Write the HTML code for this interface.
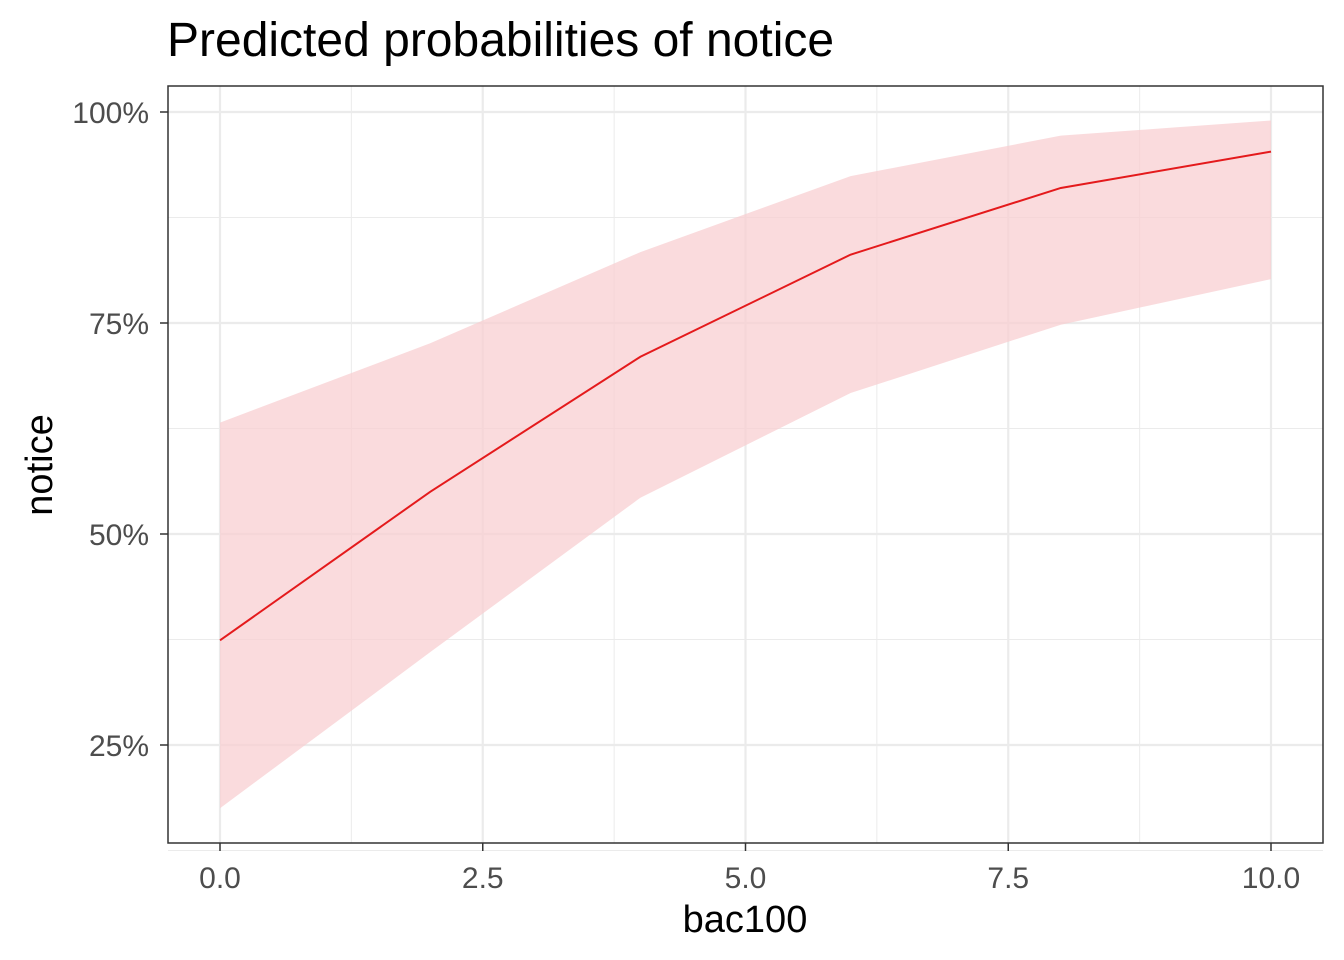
<!DOCTYPE html>
<html><head><meta charset="utf-8"><style>
body{margin:0;background:#fff;}
svg{display:block;font-family:"Liberation Sans",Arial,sans-serif;}
</style></head><body>
<svg id="chart" width="1344" height="960">
<text x="167" y="56" font-size="48" fill="#000">Predicted probabilities of notice</text>
<g id="grid"></g>
<g id="marks"></g>
<rect x="168" y="86" width="1155" height="757" fill="none" stroke="#333" stroke-width="1.5"/>
<g id="axes"></g>
<text x="745" y="932" font-size="38" text-anchor="middle" fill="#000">bac100</text>
<text transform="translate(52,465) rotate(-90)" font-size="38" text-anchor="middle" fill="#000">notice</text>
</svg>
<script>
const xs=[0,2,4,6,8,10];
const fit=[37.4,55.0,71.0,83.1,91.0,95.3];
const upper=[63.2,72.6,83.4,92.4,97.2,99.0];
const lower=[17.5,36.0,54.3,66.7,74.8,80.2];
const xTicks=[0,2.5,5,7.5,10];
const xTickLabels=["0.0","2.5","5.0","7.5","10.0"];
const yTicks=[25,50,75,100];
const yTickLabels=["25%","50%","75%","100%"];
const X=v=>220+v*105.1;
const Y=v=>534-(v-50)*8.44;
const NS="http://www.w3.org/2000/svg";
const grid=document.getElementById('grid'),marks=document.getElementById('marks'),axes=document.getElementById('axes');
function mk(t,a,p){const e=document.createElementNS(NS,t);for(const k in a)e.setAttribute(k,a[k]);p.appendChild(e);return e;}
for(let i=0;i<xTicks.length-1;i++){const m=(xTicks[i]+xTicks[i+1])/2;
 const l=mk('line',{x1:X(m),x2:X(m),y1:86,y2:843,stroke:'#ebebeb','stroke-width':1},grid);
 }
for(let i=0;i<yTicks.length;i++){const m=yTicks[i]-12.5;
 const l=mk('line',{x1:168,x2:1323,y1:Y(m),y2:Y(m),stroke:'#ebebeb','stroke-width':1},grid);
 }
xTicks.forEach((v,i)=>{
 const l=mk('line',{x1:X(v),x2:X(v),y1:86,y2:843,stroke:'#ebebeb','stroke-width':2.2},grid);
 
 const t=mk('line',{x1:X(v),x2:X(v),y1:843,y2:851,stroke:'#333','stroke-width':1.5},axes);
 
 const tx=mk('text',{x:X(v),y:888,'font-size':30,'text-anchor':'middle',fill:'#4d4d4d'},axes);
 tx.textContent=xTickLabels[i];
 
});
yTicks.forEach((v,i)=>{
 const l=mk('line',{x1:168,x2:1323,y1:Y(v),y2:Y(v),stroke:'#ebebeb','stroke-width':2.2},grid);
 
 const t=mk('line',{x1:160,x2:168,y1:Y(v),y2:Y(v),stroke:'#333','stroke-width':1.5},axes);
 
 const tx=mk('text',{x:149,y:Y(v)+11,'font-size':30,'text-anchor':'end',fill:'#4d4d4d'},axes);
 tx.textContent=yTickLabels[i];
 
});
let d=xs.map((x,i)=>(i?'L':'M')+X(x)+','+Y(upper[i])).join('');
for(let i=xs.length-1;i>=0;i--)d+='L'+X(xs[i])+','+Y(lower[i]);
const band=mk('path',{d:d+'Z',fill:'#f8cfd2','fill-opacity':0.75},marks);

const line=mk('path',{d:xs.map((x,i)=>(i?'L':'M')+X(x)+','+Y(fit[i])).join(''),fill:'none',stroke:'#e41a1c','stroke-width':2},marks);

</script>
</body></html>
